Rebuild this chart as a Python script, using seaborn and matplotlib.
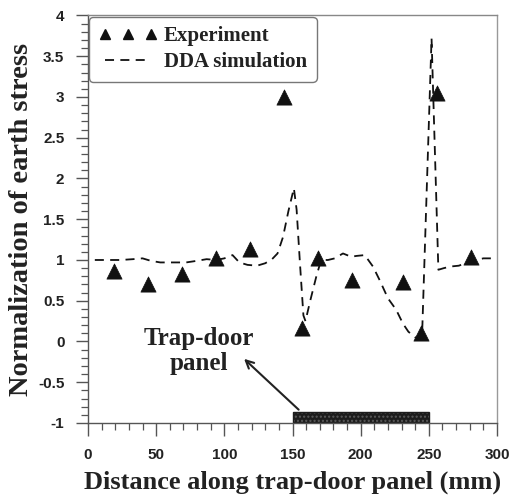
import matplotlib
matplotlib.use("Agg")
import matplotlib.pyplot as plt
from matplotlib.lines import Line2D
from matplotlib.patches import Rectangle
from matplotlib.ticker import MultipleLocator
import seaborn as sns
import pandas as pd

# Experiment data (triangles)
exp_x = [19, 44, 69, 94, 119, 144, 157, 169, 194, 231, 244, 256, 281]
exp_y = [0.86, 0.71, 0.83, 1.03, 1.13, 3.00, 0.16, 1.02, 0.76, 0.73, 0.10, 3.05, 1.04]

# DDA simulation (dashed line)
dda_x = [5, 15, 24, 33, 40, 46, 53, 62, 72, 80, 87, 94, 100, 106, 111, 117, 124, 130,
         135, 139, 143, 147, 151, 153, 155.5, 158, 159.5, 163, 167.5, 171, 176, 181,
         187, 193, 197, 203, 209, 214, 220, 226, 231, 235, 240, 245, 252, 257, 261,
         266, 272, 280, 290, 300]
dda_y = [1.00, 1.00, 1.00, 1.01, 1.02, 0.99, 0.97, 0.97, 0.97, 0.99, 1.01, 1.00, 1.02,
         1.06, 0.97, 0.94, 0.93, 0.96, 1.01, 1.08, 1.28, 1.60, 1.88, 1.62, 0.95, 0.32,
         0.25, 0.50, 0.80, 1.00, 1.00, 1.02, 1.08, 1.04, 1.05, 1.06, 0.92, 0.75, 0.53,
         0.39, 0.22, 0.12, 0.05, 0.05, 3.72, 0.88, 0.90, 0.92, 0.93, 0.98, 1.02, 1.02]

x_ticks = [0, 50, 100, 150, 200, 250, 300]
y_ticks = [-1, -0.5, 0, 0.5, 1, 1.5, 2, 2.5, 3, 3.5, 4]
y_tick_labels = ["-1", "-0.5", "0", "0.5", "1", "1.5", "2", "2.5", "3", "3.5", "4"]

panel_span = (150, 250)
panel_top = -0.86

sns.set_style("ticks")
plt.rcParams["font.family"] = ["Liberation Serif", "DejaVu Serif"]

fig = plt.figure(figsize=(5.12, 4.95), dpi=100)
ax = fig.add_axes([0.1719, 0.1455, 0.7988, 0.8232])

df_dda = pd.DataFrame({"x": dda_x, "y": dda_y})
df_exp = pd.DataFrame({"x": exp_x, "y": exp_y})

sns.lineplot(data=df_dda, x="x", y="y", ax=ax, color="#111111", lw=1.3,
             linestyle=(0, (5, 3.5)), estimator=None, sort=False, zorder=3)
sns.scatterplot(data=df_exp, x="x", y="y", ax=ax, marker="^", s=120,
                color="#111111", edgecolor="#111111", linewidth=0.5, zorder=4)

ax.set_xlim(0, 300)
ax.set_ylim(-1, 4)
ax.set_xticks(x_ticks)
ax.set_yticks(y_ticks)
ax.set_yticklabels(y_tick_labels)
ax.xaxis.set_minor_locator(MultipleLocator(10))
ax.yaxis.set_minor_locator(MultipleLocator(0.1))

spine_col = "#555555"
for s in ax.spines.values():
    s.set_color(spine_col)
    s.set_linewidth(1.0)
ax.spines["top"].set_color("#888888")
ax.spines["right"].set_color("#999999")

ax.tick_params(which="major", direction="out", length=9, width=1.0, color=spine_col,
               top=False, right=False)
ax.tick_params(which="minor", direction="out", length=5, width=0.9, color=spine_col,
               top=False, right=False)
ax.tick_params(axis="x", which="major", pad=9)
ax.tick_params(axis="y", which="major", pad=8)
for lab in ax.get_xticklabels() + ax.get_yticklabels():
    lab.set_fontfamily(["Liberation Sans", "DejaVu Sans"])
    lab.set_fontweight("bold")
    lab.set_fontsize(11)
    lab.set_color("#222222")

ax.set_xlabel("Distance along trap-door panel (mm)", fontsize=19, fontweight="bold",
              color="#222222", labelpad=6)
ax.set_ylabel("Normalization of earth stress", fontsize=20.5, fontweight="bold",
              color="#222222", labelpad=3)

# Trap-door panel bar
bar = Rectangle((panel_span[0], -1), panel_span[1] - panel_span[0], panel_top + 1,
                facecolor="#1c1c1c", edgecolor="#5a5a5a", hatch="....", lw=0.0,
                zorder=2)
ax.add_patch(bar)
ax.add_patch(Rectangle((panel_span[0], -1), panel_span[1] - panel_span[0], panel_top + 1,
                       facecolor="none", edgecolor="#1c1c1c", lw=1.0, zorder=2))

ax.annotate("", xy=(113, -0.19), xytext=(156, -0.86),
            arrowprops=dict(arrowstyle="->", color="#222222", lw=1.5,
                            mutation_scale=14))
ax.text(81, -0.12, "Trap-door\npanel", ha="center", va="center", fontsize=18,
        fontweight="bold", color="#222222", linespacing=1.1)

handles = [
    Line2D([], [], marker="^", linestyle="none", color="#111111", markersize=7),
    Line2D([], [], color="#111111", lw=1.3, linestyle=(0, (5, 3.5))),
]
leg = ax.legend(handles, ["Experiment", "DDA simulation"], loc="upper left",
                bbox_to_anchor=(0.0, 1.0), borderaxespad=0.05, numpoints=3,
                handlelength=2.8, handletextpad=0.35, borderpad=0.45,
                labelspacing=0.3, fancybox=True, framealpha=1,
                prop={"family": ["Liberation Serif", "DejaVu Serif"],
                      "weight": "bold", "size": 15})
leg.get_frame().set_edgecolor("#777777")
leg.get_frame().set_linewidth(1.0)
for t in leg.get_texts():
    t.set_color("#222222")

fig.savefig("out.png", dpi=100)
